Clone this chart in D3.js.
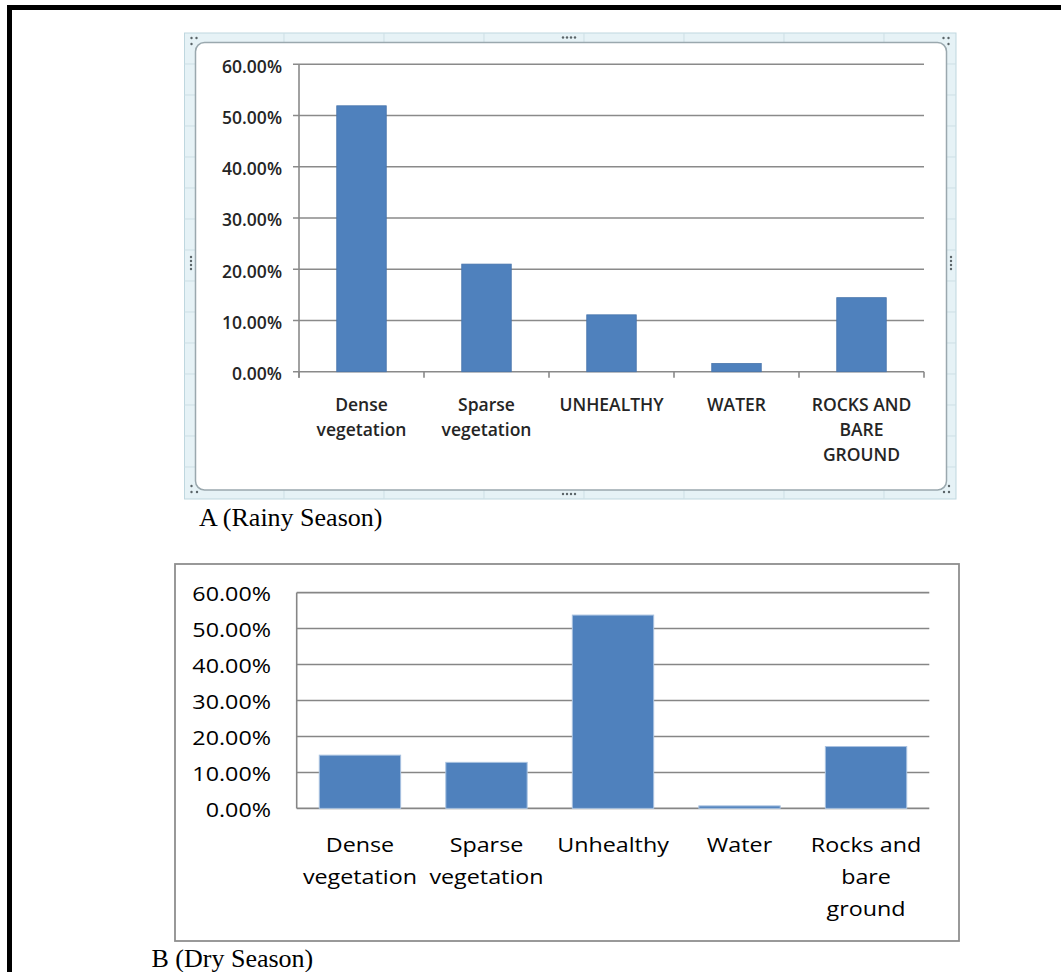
<!DOCTYPE html>
<html><head><meta charset="utf-8">
<script src="https://cdn.jsdelivr.net/npm/d3@7"></script>
<style>html,body{margin:0;padding:0;background:#fff;overflow:hidden}</style>
</head><body>
<svg id="c" width="1061" height="972" xmlns="http://www.w3.org/2000/svg"></svg>
<script>
// ---- data ----
const categoriesA = ["Dense vegetation","Sparse vegetation","UNHEALTHY","WATER","ROCKS AND BARE GROUND"];
const labelLinesA = [["Dense","vegetation"],["Sparse","vegetation"],["UNHEALTHY"],["WATER"],["ROCKS AND","BARE","GROUND"]];
const valuesA = [0.519, 0.210, 0.111, 0.016, 0.1445];
const categoriesB = ["Dense vegetation","Sparse vegetation","Unhealthy","Water","Rocks and bare ground"];
const labelLinesB = [["Dense","vegetation"],["Sparse","vegetation"],["Unhealthy"],["Water"],["Rocks and","bare","ground"]];
const valuesB = [0.148, 0.128, 0.5375, 0.007, 0.172];
const tickValues = [0, 0.1, 0.2, 0.3, 0.4, 0.5, 0.6];
const captionA = "A (Rainy Season)";
const captionB = "B (Dry Season)";

const svg = d3.select("#c");
const fmt = d3.format(".2%");

// outer black page border (top + left only)
svg.append("path").attr("d","M9.5,972 L9.5,7.5 L1061,7.5")
  .attr("fill","none").attr("stroke","#000").attr("stroke-width",5);

// ================= Chart A (Excel selection frame) =================
const fr = {x0:184.5, y0:33, x1:956, y1:499, ix0:195.5, iy0:42.5, ix1:946.5, iy1:490};
svg.append("rect").attr("x",fr.x0).attr("y",fr.y0).attr("width",fr.x1-fr.x0).attr("height",fr.y1-fr.y0)
  .attr("fill","#e6f2f6").attr("stroke","#bfd7df").attr("stroke-width",1);
const band = svg.append("g").attr("stroke","#cddfe5").attr("stroke-width",1);
d3.range(284, fr.x1, 100).forEach(x=>{
  band.append("line").attr("x1",x).attr("x2",x).attr("y1",fr.y0).attr("y2",fr.iy0);
  band.append("line").attr("x1",x).attr("x2",x).attr("y1",fr.iy1).attr("y2",fr.y1);
});
d3.range(64, fr.iy1, 31).forEach(y=>{
  band.append("line").attr("x1",fr.x0).attr("x2",fr.ix0).attr("y1",y).attr("y2",y);
  band.append("line").attr("x1",fr.ix1).attr("x2",fr.x1).attr("y1",y).attr("y2",y);
});
svg.append("rect").attr("x",fr.ix0).attr("y",fr.iy0).attr("width",fr.ix1-fr.ix0).attr("height",fr.iy1-fr.iy0)
  .attr("rx",9).attr("fill","#fff").attr("stroke","#9aa8ae").attr("stroke-width",1.5);
// handles
const dots = [[191.5,38],[196.5,38],[191.5,44],[943.5,38],[948.5,38],[948.5,44],
  [191.5,486],[191.5,492],[197,492],[944,492],[949,492],[949,486],
  [563,37.5],[567,37.5],[571,37.5],[575,37.5],[563,494],[567,494],[571,494],[575,494],
  [191,257],[191,261],[191,265],[191,269],[951,257],[951,261],[951,265],[951,269]];
svg.append("g").selectAll("circle").data(dots).join("circle")
  .attr("cx",d=>d[0]).attr("cy",d=>d[1]).attr("r",1.2).attr("fill","#5a6468");

const yA = d3.scaleLinear().domain([0,0.6]).range([371.7,64.3]);
const xA = d3.scaleBand().domain(categoriesA).range([299,924]).paddingInner(0.604).paddingOuter(0.302);
const gA = svg.append("g");
const gridCol = "#8a8a8a";
gA.selectAll("line.grid").data(tickValues).join("line").attr("class","grid")
  .attr("x1",293).attr("x2",924).attr("y1",d=>yA(d)).attr("y2",d=>yA(d))
  .attr("stroke",gridCol).attr("stroke-width",1.6);
gA.append("line").attr("x1",299).attr("x2",299).attr("y1",yA(0.6)).attr("y2",yA(0)+6)
  .attr("stroke",gridCol).attr("stroke-width",1.6);
gA.selectAll("line.xt").data(d3.range(categoriesA.length+1)).join("line").attr("class","xt")
  .attr("x1",i=>299+i*xA.step()).attr("x2",i=>299+i*xA.step())
  .attr("y1",yA(0)).attr("y2",yA(0)+6).attr("stroke",gridCol).attr("stroke-width",1.6);
gA.selectAll("rect.bar").data(valuesA).join("rect").attr("class","bar")
  .attr("x",(d,i)=>xA(categoriesA[i])).attr("width",xA.bandwidth())
  .attr("y",d=>yA(d)).attr("height",d=>yA(0)-yA(d))
  .attr("fill","#4f81bd").attr("stroke","#4774ab").attr("stroke-width",0.8);
gA.selectAll("text.yl").data(tickValues).join("text").attr("class","yl")
  .attr("x",282).attr("y",d=>yA(d)+8.3).attr("text-anchor","end")
  .attr("font-family","Open Sans").attr("font-weight",600).attr("font-size",17.5).attr("fill","#252525")
  .text(d=>fmt(d));
categoriesA.forEach((c,i)=>{
  const cx = xA(c)+xA.bandwidth()/2;
  labelLinesA[i].forEach((ln,j)=>{
    gA.append("text").attr("x",cx).attr("y",411+25*j).attr("text-anchor","middle")
      .attr("font-family","Open Sans").attr("font-weight",600).attr("font-size",17.5).attr("fill","#252525")
      .text(ln);
  });
});
svg.append("text").attr("x",199).attr("y",526).attr("font-family","Liberation Serif")
  .attr("font-size",26).attr("fill","#000").text(captionA);

// ================= Chart B =================
svg.append("rect").attr("x",175).attr("y",564).attr("width",784).attr("height",377)
  .attr("fill","#fff").attr("stroke","#8e8e8e").attr("stroke-width",1.8);
const yB = d3.scaleLinear().domain([0,0.6]).range([808.4,592.6]);
const xB = d3.scaleBand().domain(categoriesB).range([296.7,929.3]).paddingInner(0.357).paddingOuter(0.1785);
const gB = svg.append("g");
gB.selectAll("line.grid").data(tickValues).join("line").attr("class","grid")
  .attr("x1",296.7).attr("x2",929.3).attr("y1",d=>yB(d)).attr("y2",d=>yB(d))
  .attr("stroke","#868686").attr("stroke-width",1.6);
gB.append("line").attr("x1",296.7).attr("x2",296.7).attr("y1",yB(0.6)).attr("y2",yB(0))
  .attr("stroke","#868686").attr("stroke-width",1.6);
gB.selectAll("rect.bar").data(valuesB).join("rect").attr("class","bar")
  .attr("x",(d,i)=>xB(categoriesB[i])).attr("width",xB.bandwidth())
  .attr("y",d=>yB(d)).attr("height",d=>yB(0)-yB(d))
  .attr("fill","#4f81bd").attr("stroke","#a9c2e0").attr("stroke-width",1);
const sx = 1.165;
gB.selectAll("text.yl").data(tickValues).join("text").attr("class","yl")
  .attr("transform",d=>`translate(271,${yB(d)+8.2}) scale(${sx},1)`).attr("text-anchor","end")
  .attr("font-family","Open Sans").attr("font-size",20).attr("fill","#000")
  .text(d=>fmt(d));
categoriesB.forEach((c,i)=>{
  const cx = xB(c)+xB.bandwidth()/2;
  labelLinesB[i].forEach((ln,j)=>{
    gB.append("text").attr("transform",`translate(${cx},${852+32*j}) scale(${sx},1)`)
      .attr("text-anchor","middle")
      .attr("font-family","Open Sans").attr("font-size",20).attr("fill","#000")
      .text(ln);
  });
});
svg.append("text").attr("x",151.5).attr("y",966.5).attr("font-family","Liberation Serif")
  .attr("font-size",26).attr("fill","#000").text(captionB);
</script>
</body></html>
